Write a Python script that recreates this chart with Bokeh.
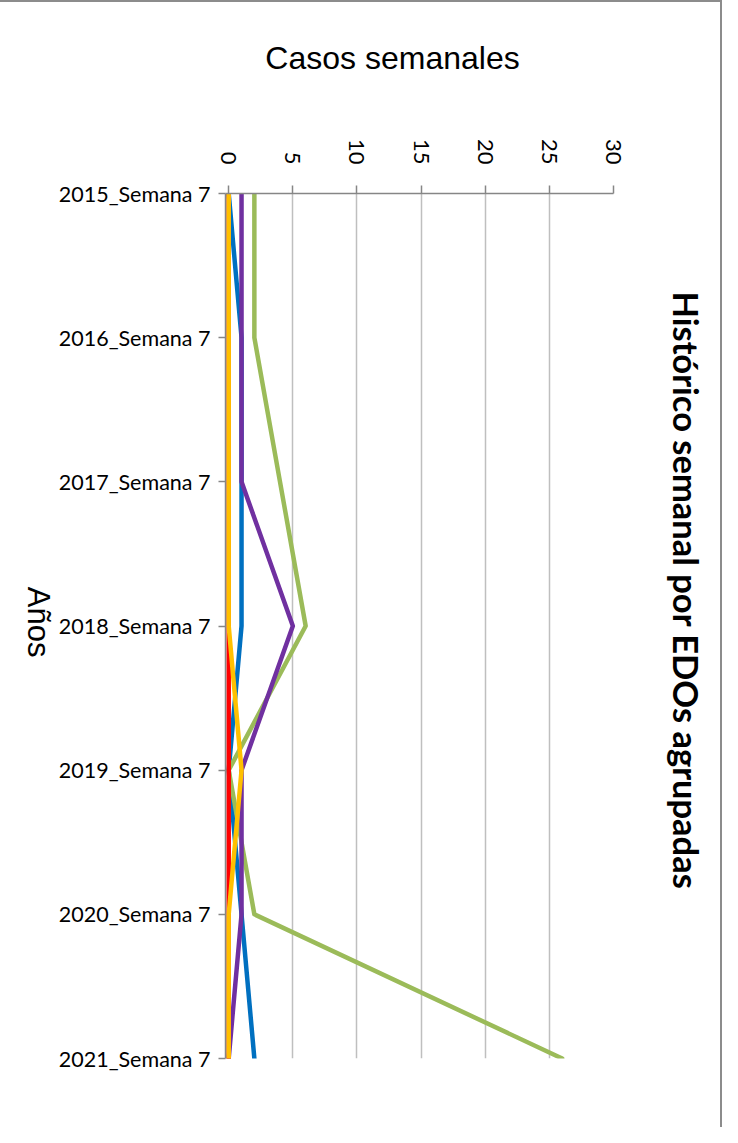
import math
from bokeh.plotting import figure
from bokeh.models import Range1d, FixedTicker, LinearAxis
from bokeh.embed import file_html
from bokeh.resources import INLINE

# ---- data ----
categories = ["2015_Semana 7", "2016_Semana 7", "2017_Semana 7", "2018_Semana 7",
              "2019_Semana 7", "2020_Semana 7", "2021_Semana 7"]
serie_azul = [0, 1, 1, 1, 0, 1, 2]
serie_verde = [2, 2, 4, 6, 0, 2, 26]
serie_morada = [1, 1, 1, 5, 1, 1, 0]
serie_roja = [0, 0, 0, 0, 0, 0, 0]
serie_amarilla = [0, 0, 0, 0, 1, 0, 0]
value_ticks = [0, 5, 10, 15, 20, 25, 30]

titulo = "Histórico semanal por EDOs agrupadas"
titulo_valores = "Casos semanales"
titulo_categorias = "Años"

cat_pos = list(range(len(categories)))

W, H = 722, 1127
BL, BR, BT, BB = 225, 109, 191, 71
FW, FH = W - BL - BR, H - BT - BB

p = figure(width=W, height=H, output_backend="svg", toolbar_location=None, title=None,
           x_range=Range1d(-0.25, 30), y_range=Range1d(6, 0),
           x_axis_location="above",
           min_border_left=BL, min_border_right=BR,
           min_border_top=BT, min_border_bottom=BB)
p.outline_line_color = None
p.background_fill_color = "white"
p.border_fill_color = "white"
p.styles = {"border-top": "2px solid #8c8c8c", "border-right": "2px solid #8c8c8c"}

# pixel-like helper ranges used only to place the titles
p.extra_x_ranges = {"pix": Range1d(start=0, end=FW)}
p.extra_y_ranges = {"pix": Range1d(start=FH, end=0)}

# value axis (top)
xa = p.xaxis[0]
xa.ticker = FixedTicker(ticks=value_ticks)
xa.axis_line_color = "#868686"
xa.axis_line_width = 1.5
xa.major_tick_line_color = "#868686"
xa.major_tick_line_width = 1.5
xa.major_tick_out = 8
xa.major_tick_in = 0
xa.minor_tick_line_color = None
xa.major_label_orientation = -math.pi / 2
xa.major_label_text_font = "Lato"
xa.major_label_text_font_size = "22px"
xa.major_label_text_color = "black"
xa.major_label_standoff = 21

# category axis (left)
ya = p.yaxis[0]
ya.ticker = FixedTicker(ticks=cat_pos)
ya.major_label_overrides = {i: c for i, c in enumerate(categories)}
ya.axis_line_color = "#868686"
ya.axis_line_width = 1.5
ya.major_tick_line_color = "#868686"
ya.major_tick_line_width = 1.5
ya.major_tick_out = 7
ya.major_tick_in = 0
ya.minor_tick_line_color = None
ya.major_label_text_font = "Lato"
ya.major_label_text_font_size = "21.5px"
ya.major_label_text_color = "black"
ya.major_label_standoff = 8

p.ygrid.visible = False
p.xgrid.ticker = FixedTicker(ticks=value_ticks)
p.xgrid.grid_line_color = "#BFBFBF"
p.xgrid.grid_line_width = 1.5


def title_axis(cls_kwargs, pos, text, font, size, style, orient, standoff):
    ax = LinearAxis(**cls_kwargs)
    ax.ticker = FixedTicker(ticks=[pos])
    ax.major_label_overrides = {pos: text}
    ax.axis_line_color = None
    ax.major_tick_line_color = None
    ax.minor_tick_line_color = None
    ax.major_tick_out = 0
    ax.major_tick_in = 0
    ax.major_label_text_font = font
    ax.major_label_text_font_size = size
    ax.major_label_text_font_style = style
    ax.major_label_text_color = "black"
    ax.major_label_orientation = orient
    ax.major_label_standoff = standoff
    return ax


# "Casos semanales" above the value axis
p.add_layout(title_axis({"x_range_name": "pix"}, 167, titulo_valores,
                        "Liberation Sans", "32px", "normal", "horizontal", 60), "above")
# "Años" left of the category labels (rotated clockwise)
p.add_layout(title_axis({"y_range_name": "pix"}, 464, titulo_categorias,
                        "Liberation Sans", "31px", "normal", -math.pi / 2, 17), "left")
# chart title on the right (rotated clockwise)
p.add_layout(title_axis({"y_range_name": "pix"}, 397, titulo,
                        "Lato", "34.5px", "bold", "vertical", 52), "right")

series = [
    (serie_azul, "#0070C0"),
    (serie_verde, "#9BBB59"),
    (serie_morada, "#7030A0"),
    (serie_roja, "#FF0000"),
    (serie_amarilla, "#FFC000"),
]
for vals, col in series:
    p.line(x=vals, y=cat_pos, line_color=col, line_width=4.5,
           line_cap="round", line_join="round")

open("out.html", "w").write(file_html(p, INLINE))
